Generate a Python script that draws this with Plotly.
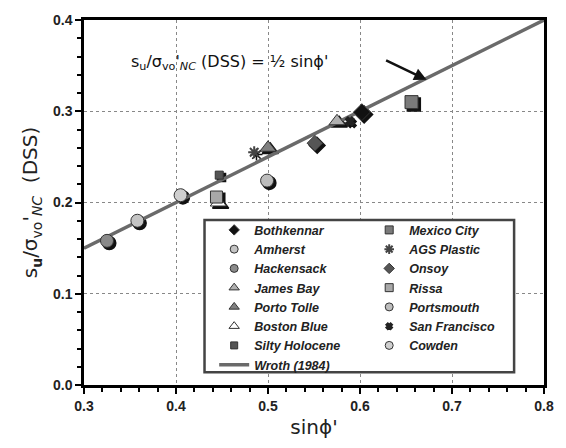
import plotly.graph_objects as go

# ---- data ----
names = ["Bothkennar", "Amherst", "Hackensack", "James Bay", "Porto Tolle",
         "Boston Blue", "Silty Holocene",
         "Mexico City", "AGS Plastic", "Onsoy", "Rissa", "Portsmouth",
         "San Francisco", "Cowden"]
sin_phi = [0.602, 0.358, 0.325, 0.575, 0.500, 0.446, 0.447,
           0.656, 0.485, 0.551, 0.444, 0.499, 0.589, 0.405]
su_ratio = [0.299, 0.180, 0.158, 0.289, 0.260, 0.200, 0.230,
            0.310, 0.255, 0.265, 0.206, 0.224, 0.289, 0.208]
symbols = ["diamond", "circle", "circle", "triangle-up", "triangle-up",
           "triangle-up", "square", "square", "asterisk-open", "diamond",
           "square", "circle", "x", "circle"]
fills = ["#111111", "#c4c4c4", "#8a8a8a", "#b0b0b0", "#808080",
         "#ffffff", "#555555", "#7a7a7a", "#444444", "#555555",
         "#a8a8a8", "#bdbdbd", "#222222", "#cfcfcf"]
sizes = [13, 13, 13, 14, 14, 14, 8, 13, 10, 12, 12, 13, 7, 13]
legend_sizes = [8, 8, 8, 9, 9, 9, 7, 8, 8, 8, 8, 8, 5, 8]
legend_of = ["legend"] * 7 + ["legend2"] * 7

wroth_x = [0.3, 0.8]
wroth_y = [0.5 * v for v in wroth_x]

shadow_dx = 0.0025

fig = go.Figure()

# shadows
for i in range(len(names)):
    fig.add_trace(go.Scatter(
        x=[sin_phi[i] + shadow_dx], y=[su_ratio[i] - shadow_dx], mode="markers",
        marker=dict(symbol=symbols[i], size=sizes[i], color="#111111",
                    line=dict(color="#111111", width=1.5)),
        showlegend=False, hoverinfo="skip"))

# Wroth line
fig.add_trace(go.Scatter(
    x=wroth_x, y=wroth_y, mode="lines", name="Wroth (1984)",
    line=dict(color="#6a6a6a", width=3.5), legend="legend",
    legendrank=8))

for i in range(len(names)):
    open_sym = symbols[i].endswith("open") or symbols[i] == "x"
    mline = dict(color=fills[i] if open_sym else "#333333",
                 width=2 if open_sym else 1)
    fig.add_trace(go.Scatter(
        x=[sin_phi[i]], y=[su_ratio[i]], mode="markers", name=names[i],
        marker=dict(symbol=symbols[i], size=sizes[i], color=fills[i],
                    line=mline),
        showlegend=False))
    fig.add_trace(go.Scatter(
        x=[None], y=[None], mode="markers", name=names[i],
        marker=dict(symbol=symbols[i], size=legend_sizes[i], color=fills[i],
                    line=mline),
        legend=legend_of[i], legendrank=i % 7 + 1, hoverinfo="skip"))

# legend box
fig.add_shape(type="rect", xref="paper", yref="paper",
              x0=0.262, x1=0.935, y0=0.035, y1=0.452,
              line=dict(color="#444444", width=2.5), fillcolor="white",
              layer="above")

leg_font = dict(family="Liberation Sans, Arial", size=12.5, color="#222222",
                weight="bold", style="italic")
fig.update_layout(
    width=566, height=448,
    margin=dict(l=84, r=20, t=16, b=62),
    paper_bgcolor="white", plot_bgcolor="white",
    legend=dict(x=0.283, y=0.465, xanchor="left", yanchor="top",
                bgcolor="rgba(0,0,0,0)", font=leg_font, tracegroupgap=0,
                borderwidth=0),
    legend2=dict(x=0.62, y=0.465, xanchor="left", yanchor="top",
                 bgcolor="rgba(0,0,0,0)", font=leg_font, tracegroupgap=0,
                 borderwidth=0),
)

tick_font = dict(family="Liberation Sans, Arial", size=14, color="#222222",
                 weight="bold")
title_font = dict(family="DejaVu Sans", size=20, color="#222222")

fig.update_xaxes(range=[0.3, 0.8], dtick=0.1, tick0=0.3, tickformat=".1f",
                 ticks="outside", ticklen=6, tickwidth=2, tickcolor="black",
                 minor=dict(dtick=0.02, ticks="outside", ticklen=4,
                            tickwidth=1.5, tickcolor="black", showgrid=False),
                 showgrid=True, gridcolor="#888888", griddash="dot",
                 gridwidth=1, showline=True, linewidth=2.5,
                 linecolor="black", mirror=True, zeroline=False,
                 tickfont=tick_font,
                 title=dict(text="sinϕ'", font=title_font, standoff=8))
fig.update_yaxes(range=[0, 0.4], dtick=0.1, tickformat=".1f",
                 ticks="outside", ticklen=6, tickwidth=2, tickcolor="black",
                 minor=dict(dtick=0.02, ticks="outside", ticklen=4,
                            tickwidth=1.5, tickcolor="black", showgrid=False),
                 showgrid=True, gridcolor="#888888", griddash="dot",
                 gridwidth=1, showline=True, linewidth=2.5,
                 linecolor="black", mirror=True, zeroline=False,
                 tickfont=tick_font,
                 title=dict(text="s<sub><b>u</b></sub>/σ<sub>vo</sub>'<sub><i>NC</i></sub>  (DSS)",
                            font=title_font, standoff=10))

# equation label and arrow
fig.add_annotation(x=0.458, y=0.353, xref="x", yref="y", showarrow=False,
                   text="s<sub>u</sub>/σ<sub>vo</sub>'<sub><i>NC</i></sub> (DSS) = ½ sinϕ'",
                   font=dict(family="DejaVu Sans", size=16, color="#111111"))
fig.add_annotation(x=0.6724, y=0.3345, xref="x", yref="y", text="",
                   showarrow=True, ax=-42, ay=-20, arrowhead=2,
                   arrowsize=1, arrowwidth=2.5, arrowcolor="#111111")

fig.write_html("out.html")
